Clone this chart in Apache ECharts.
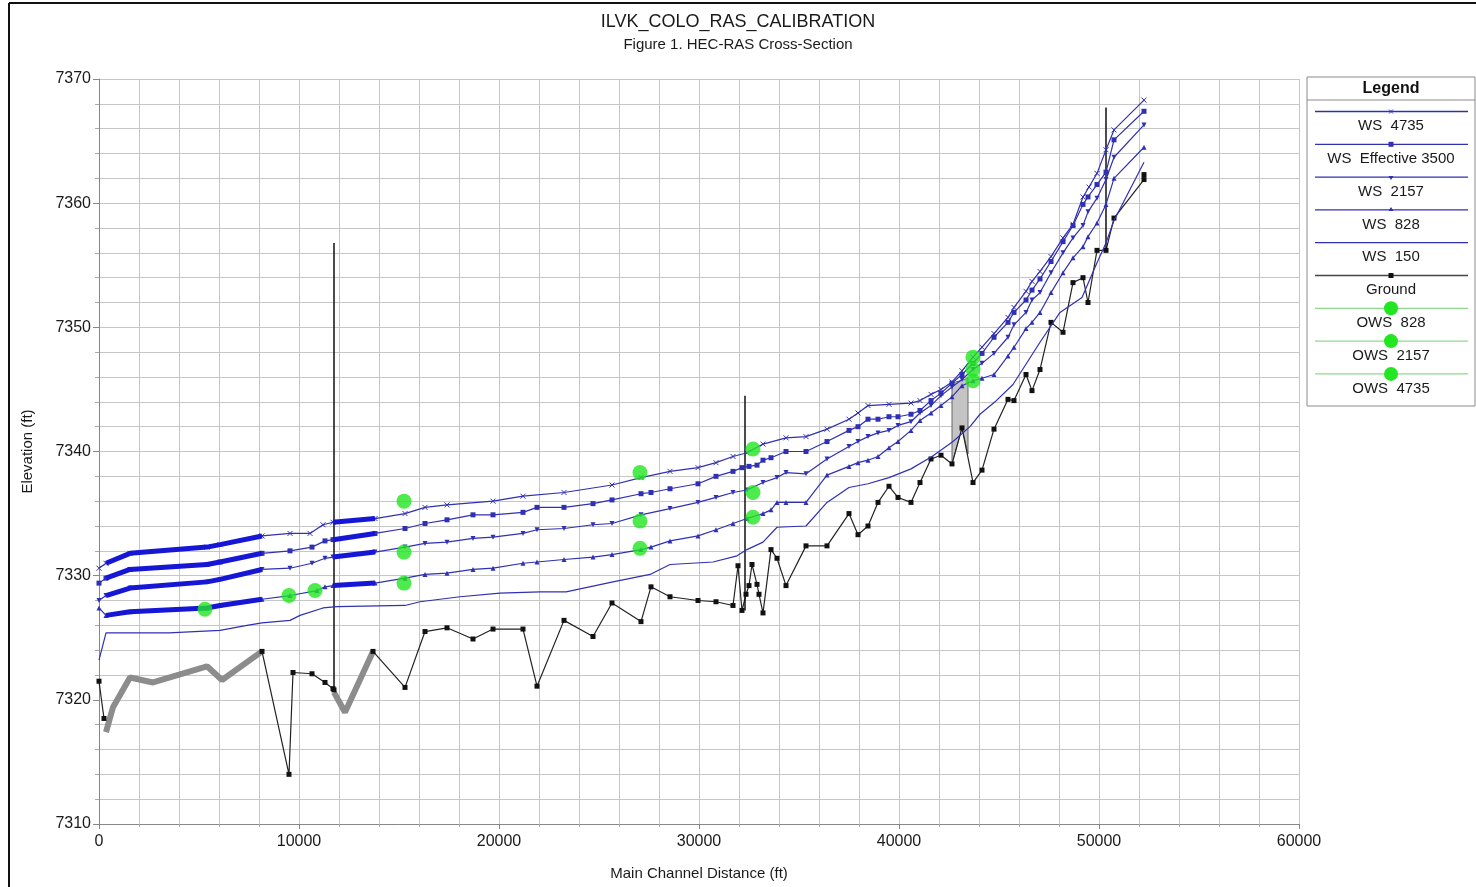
<!DOCTYPE html>
<html><head><meta charset="utf-8">
<script src="https://cdn.jsdelivr.net/npm/echarts/dist/echarts.min.js"></script>
<style>html,body{margin:0;padding:0;background:#fff}#c{width:1476px;height:887px}</style>
</head><body><div id="c"></div>
<script>
// ---- tick labels / axis ranges
const xTickValues = [0, 10000, 20000, 30000, 40000, 50000, 60000];
const yTickValues = [7310, 7320, 7330, 7340, 7350, 7360, 7370];

// ---- water surface profiles [distance ft, elevation ft]
const ws4735 = [[0,7330.6],[350,7331.0],[1550,7331.8],[5400,7332.3],[6050,7332.5],[8150,7333.2],[9550,7333.4],[10550,7333.4],[11200,7334.1],[11700,7334.3],[13800,7334.6],[15300,7335.0],[16300,7335.5],[17400,7335.7],[19700,7336.0],[21200,7336.4],[23250,7336.7],[25650,7337.3],[27100,7337.9],[28550,7338.4],[29950,7338.7],[30850,7339.1],[31700,7339.6],[32400,7339.9],[33200,7340.6],[34350,7341.1],[35350,7341.2],[36400,7341.8],[37500,7342.6],[37950,7343.1],[38450,7343.7],[39500,7343.8],[40600,7343.9],[41050,7344.1],[41600,7344.6],[42100,7345.0],[42650,7345.6],[43150,7346.5],[43700,7347.6],[44150,7348.4],[44750,7349.5],[45450,7350.8],[45750,7351.6],[46350,7352.9],[46650,7353.7],[47050,7354.5],[47600,7355.7],[48200,7357.2],[48700,7358.3],[49200,7360.5],[49500,7361.3],[49900,7362.4],[50350,7364.3],[50750,7365.9],[52250,7368.3]];
const wsEff3500 = [[0,7329.4],[350,7329.8],[1550,7330.5],[5400,7330.9],[6050,7331.1],[8150,7331.8],[9550,7332.0],[10650,7332.3],[11300,7332.8],[11700,7332.9],[13800,7333.4],[15300,7333.8],[16300,7334.2],[17400,7334.5],[18700,7334.9],[19700,7334.9],[21200,7335.1],[21900,7335.5],[23250,7335.5],[24700,7335.8],[25650,7336.1],[27100,7336.6],[27600,7336.7],[28550,7337.0],[29950,7337.4],[30850,7338.0],[31700,7338.4],[32150,7338.7],[32500,7338.8],[32900,7338.9],[33200,7339.3],[33600,7339.5],[34350,7340.0],[35350,7340.0],[36400,7340.8],[37500,7341.7],[37950,7342.0],[38450,7342.6],[38950,7342.6],[39500,7342.8],[39950,7342.8],[40600,7343.0],[41050,7343.3],[41600,7344.1],[42100,7344.7],[42650,7345.5],[43150,7346.2],[43700,7347.1],[44150,7347.9],[44750,7349.2],[45450,7350.4],[45750,7351.2],[46350,7352.2],[46650,7353.0],[47050,7353.9],[47600,7355.3],[48200,7356.9],[48700,7358.2],[49200,7359.9],[49450,7360.5],[49900,7361.5],[50350,7362.5],[50750,7365.1],[52250,7367.4]];
const ws2157 = [[0,7328.0],[350,7328.4],[1550,7329.0],[5400,7329.5],[6050,7329.7],[8150,7330.5],[9550,7330.6],[10650,7331.0],[11300,7331.4],[11700,7331.5],[13800,7331.9],[15300,7332.3],[16300,7332.6],[17400,7332.7],[18700,7333.0],[19700,7333.1],[21200,7333.4],[21900,7333.7],[23250,7333.8],[24700,7334.1],[25650,7334.2],[27100,7334.9],[28550,7335.4],[29950,7335.9],[30850,7336.3],[31700,7336.7],[32400,7336.9],[33200,7337.5],[33900,7337.9],[34350,7338.3],[35350,7338.2],[36400,7339.4],[37500,7340.4],[37950,7340.8],[38450,7341.2],[38950,7341.5],[39500,7341.7],[39950,7342.1],[40600,7342.4],[41050,7343.1],[41600,7343.7],[42100,7344.5],[42650,7345.2],[43150,7345.8],[43700,7346.6],[44150,7347.1],[44750,7347.9],[45450,7349.2],[45750,7350.2],[46350,7351.2],[46650,7352.2],[47050,7352.8],[47600,7354.4],[48200,7356.0],[48700,7357.2],[49200,7358.2],[49450,7359.3],[49900,7360.4],[50350,7361.9],[50750,7363.7],[52250,7366.3]];
const ws828 = [[0,7327.4],[350,7326.8],[1550,7327.1],[5400,7327.4],[6050,7327.6],[8150,7328.1],[9550,7328.4],[10900,7328.8],[11300,7329.1],[11700,7329.2],[13800,7329.4],[15300,7329.8],[16300,7330.1],[17400,7330.2],[18700,7330.5],[19700,7330.6],[21200,7331.0],[21900,7331.1],[23250,7331.3],[24700,7331.5],[25650,7331.7],[27100,7332.1],[27600,7332.3],[28550,7332.8],[29950,7333.2],[30850,7333.7],[31700,7334.2],[32400,7334.6],[33200,7335.0],[33600,7335.3],[33900,7335.9],[34350,7335.9],[35350,7335.9],[36400,7338.1],[37500,7338.8],[37950,7339.1],[38450,7339.3],[38950,7339.6],[39500,7340.3],[39950,7340.8],[40600,7341.7],[41050,7342.5],[41600,7343.1],[42100,7343.7],[42650,7344.4],[43150,7345.3],[43700,7345.7],[44150,7345.9],[44750,7346.2],[45450,7347.7],[45750,7348.4],[46350,7349.9],[46650,7350.4],[47050,7351.2],[47600,7352.8],[48200,7354.4],[48700,7355.6],[49200,7356.5],[49450,7357.3],[49900,7358.4],[50350,7359.9],[50750,7362.0],[52250,7364.5]];
const ws150 = [[0,7323.2],[350,7325.4],[3500,7325.4],[6050,7325.6],[7400,7326.0],[8150,7326.2],[9550,7326.4],[10050,7326.8],[11200,7327.4],[11900,7327.5],[15300,7327.6],[16050,7327.9],[18050,7328.3],[20050,7328.6],[22050,7328.7],[23350,7328.7],[25700,7329.5],[27550,7330.1],[28550,7330.9],[30700,7331.1],[31900,7331.6],[32400,7332.1],[33200,7332.7],[33900,7333.9],[35350,7334.0],[36400,7335.9],[37500,7337.1],[38450,7337.4],[39500,7337.9],[40600,7338.6],[41650,7339.6],[42700,7340.8],[43550,7342.0],[44050,7343.0],[44800,7344.0],[45700,7345.4],[47050,7348.8],[48050,7351.2],[49150,7352.4],[49900,7355.2],[50350,7356.8],[50750,7358.6],[52250,7363.3]];

// ---- ground (black, with cross-section markers)
const groundUp = [[0,7321.5],[250,7318.5]];
const groundMid = [[8150,7323.9],[9500,7314.0],[9700,7322.2],[10650,7322.1],[11300,7321.4],[11700,7320.9],[11750,7320.8]];
const groundDown = [[13700,7323.9],[15300,7321.0],[16300,7325.5],[17400,7325.8],[18700,7324.9],[19700,7325.7],[21200,7325.7],[21900,7321.1],[23250,7326.4],[24700,7325.1],[25650,7327.8],[27100,7326.3],[27600,7329.1],[28550,7328.3],[29950,7328.0],[30850,7327.9],[31700,7327.6],[31950,7330.8],[32150,7327.2],[32350,7328.5],[32500,7329.2],[32650,7330.9],[32900,7329.3],[33000,7328.5],[33200,7327.0],[33600,7332.1],[33900,7331.4],[34350,7329.2],[35350,7332.4],[36400,7332.4],[37500,7335.0],[37950,7333.3],[38450,7334.0],[38950,7335.9],[39500,7337.2],[39950,7336.3],[40600,7335.9],[41050,7337.5],[41600,7339.4],[42100,7339.7],[42650,7339.0],[43150,7341.9],[43700,7337.5],[44150,7338.5],[44750,7341.8],[45450,7344.2],[45750,7344.1],[46350,7346.2],[46650,7344.9],[47050,7346.6],[47600,7350.4],[48200,7349.6],[48700,7353.6],[49200,7354.0],[49450,7352.0],[49900,7356.2],[50350,7356.2],[50750,7358.8],[52250,7361.9],[52250,7362.3]];
// ---- interpolated ground (thick grey)
const groundInterp1 = [[350,7317.4],[700,7319.4],[1550,7321.8],[2700,7321.4],[5400,7322.7],[6150,7321.6],[8150,7323.9]];
const groundInterp2 = [[11750,7320.6],[12300,7319.0],[13700,7323.9]];
// ---- structures [distance, bottom, top]
const structures = [[11750,7320.8,7356.8],[32300,7327.2,7344.5],[50350,7356.2,7367.7]];
// ---- ineffective area polygon
const ineffArea = [[42650,7345.5],[43450,7345.9],[43450,7339.8],[43150,7341.9],[42650,7339.0]];
// ---- dense interpolated reaches (drawn thick)
const denseReaches = [[350,8150],[11700,13800]];
// ---- observed water surface
const ows828 = [[5300,7327.3],[9500,7328.4],[10800,7328.8],[15250,7329.4],[27050,7332.2],[32700,7334.7],[43700,7345.7]];
const ows2157 = [[15250,7331.9],[27050,7334.4],[32700,7336.7],[43700,7346.6]];
const ows4735 = [[15250,7336.0],[27050,7338.3],[32700,7340.2],[43700,7347.6]];

const WS = '#3030b4', WS_THICK = '#1616d6', GREEN = '#22e622';
const FONT = '"Liberation Sans", Arial, sans-serif';
const triDown = 'path://M0,0L10,0L5,9Z';
const xMark = 'path://M0,0L10,10M10,0L0,10';

const wsDefs = [
  {name:'WS  4735', data:ws4735, symbol:xMark, fill:'none', size:5},
  {name:'WS  Effective 3500', data:wsEff3500, symbol:'rect', fill:WS, size:5},
  {name:'WS  2157', data:ws2157, symbol:triDown, fill:WS, size:5},
  {name:'WS  828', data:ws828, symbol:'triangle', fill:WS, size:5},
  {name:'WS  150', data:ws150, symbol:'none', fill:WS, size:0}
];

const series = [];
series.push({type:'custom', silent:true, z:1, data:[ineffArea[0]],
  renderItem:(p,api)=>({type:'polygon', shape:{points:ineffArea.map(q=>api.coord(q))},
    style:{fill:'#c4c4c4', stroke:'#666', lineWidth:1}})});
[groundInterp1, groundInterp2].forEach(d=>series.push({type:'line', data:d, symbol:'none', z:2,
  lineStyle:{color:'#8c8c8c', width:6}, silent:true}));
[groundUp, groundMid, groundDown].forEach(d=>series.push({type:'line', name:'Ground', data:d, z:3,
  symbol:'rect', symbolSize:5, itemStyle:{color:'#111'}, lineStyle:{color:'#222', width:1.2}}));
series.push({type:'custom', z:4, data:structures, encode:{x:0,y:[1,2]},
  renderItem:(p,api)=>{const a=api.coord([api.value(0),api.value(1)]);const b=api.coord([api.value(0),api.value(2)]);
    return {type:'line', shape:{x1:a[0],y1:a[1],x2:b[0],y2:b[1]}, style:{stroke:'#111', lineWidth:1.5}};}});
wsDefs.forEach(w=>{
  series.push({type:'line', name:w.name, data:w.data, z:5, symbol:w.symbol, symbolSize:w.size, showSymbol:w.symbol!=='none',
    itemStyle:{color:w.fill==='none'?'rgba(0,0,0,0)':w.fill, borderColor:WS, borderWidth:w.fill==='none'?1:0},
    lineStyle:{color:WS, width:1.2}});
  if (w.symbol!=='none') denseReaches.forEach(r=>series.push({type:'line', data:w.data.filter(q=>q[0]>=r[0]&&q[0]<=r[1]),
    symbol:'none', z:6, silent:true, lineStyle:{color:WS_THICK, width:5}}));
});
[['OWS  828',ows828],['OWS  2157',ows2157],['OWS  4735',ows4735]].forEach(([n,d])=>series.push({type:'scatter', name:n, data:d, z:10,
  symbol:'circle', symbolSize:15, itemStyle:{color:GREEN}}));

// legend graphic
const lg = [];
const LX = 1307, LY = 77, LW = 168, LH = 329;
lg.push({type:'rect', shape:{x:LX,y:LY,width:LW,height:LH}, style:{fill:'#fff', stroke:'#8a8a8a', lineWidth:1}, z:100});
lg.push({type:'text', x:1391, y:89, style:{text:'Legend', font:'bold 16px '+FONT, fill:'#111', align:'center', verticalAlign:'middle'}, z:101});
lg.push({type:'line', shape:{x1:LX,y1:100,x2:LX+LW,y2:100}, style:{stroke:'#8a8a8a', lineWidth:1}, z:101});
const legendItems = [
  {label:'WS  4735', color:WS, mark:'x'},
  {label:'WS  Effective 3500', color:WS, mark:'rect'},
  {label:'WS  2157', color:WS, mark:'tdown'},
  {label:'WS  828', color:WS, mark:'tup'},
  {label:'WS  150', color:WS, mark:null},
  {label:'Ground', color:'#444', mark:'grect'},
  {label:'OWS  828', color:'#8fd88f', mark:'dot'},
  {label:'OWS  2157', color:'#8fd88f', mark:'dot'},
  {label:'OWS  4735', color:'#8fd88f', mark:'dot'}
];
legendItems.forEach((it,i)=>{
  const y = 111.5 + i*32.8, cx = 1391;
  lg.push({type:'line', shape:{x1:1315,y1:y,x2:1468,y2:y}, style:{stroke:it.color, lineWidth:1.3}, z:101});
  if (it.mark==='x') lg.push({type:'polyline', shape:{points:[[cx-2,y-2],[cx+2,y+2]]}, style:{stroke:WS,lineWidth:1}, z:102},
                              {type:'polyline', shape:{points:[[cx-2,y+2],[cx+2,y-2]]}, style:{stroke:WS,lineWidth:1}, z:102});
  if (it.mark==='rect') lg.push({type:'rect', shape:{x:cx-2.5,y:y-2.5,width:5,height:5}, style:{fill:WS}, z:102});
  if (it.mark==='grect') lg.push({type:'rect', shape:{x:cx-2.5,y:y-2.5,width:5,height:5}, style:{fill:'#111'}, z:102});
  if (it.mark==='tdown') lg.push({type:'polygon', shape:{points:[[cx-2.5,y-1],[cx+2.5,y-1],[cx,y+3]]}, style:{fill:WS}, z:102});
  if (it.mark==='tup') lg.push({type:'polygon', shape:{points:[[cx-2.5,y+1],[cx+2.5,y+1],[cx,y-3]]}, style:{fill:WS}, z:102});
  if (it.mark==='dot') lg.push({type:'circle', shape:{cx:cx,cy:y,r:7}, style:{fill:GREEN}, z:102});
  lg.push({type:'text', x:cx, y:y+14.5, style:{text:it.label, font:'15px '+FONT, fill:'#1a1a1a', align:'center', verticalAlign:'middle'}, z:102});
});
lg.push({type:'line', shape:{x1:9,y1:3,x2:9,y2:887}, style:{stroke:'#111', lineWidth:2}, z:100});
lg.push({type:'line', shape:{x1:9,y1:3,x2:1476,y2:3}, style:{stroke:'#111', lineWidth:2}, z:100});

const chart = echarts.init(document.getElementById('c'), null, {renderer:'canvas'});
chart.setOption({
  animation:false,
  backgroundColor:'#fff',
  textStyle:{fontFamily:FONT},
  title:{text:'ILVK_COLO_RAS_CALIBRATION', subtext:'Figure 1. HEC-RAS Cross-Section', left:'center', top:8, itemGap:6,
    textStyle:{fontSize:18, fontWeight:'normal', color:'#1a1a1a', fontFamily:FONT},
    subtextStyle:{fontSize:15, color:'#1a1a1a', fontFamily:FONT}},
  grid:{left:99, right:177, top:79, bottom:63},
  xAxis:{type:'value', min:xTickValues[0], max:xTickValues[xTickValues.length-1], interval:xTickValues[1]-xTickValues[0],
    name:'Main Channel Distance (ft)', nameLocation:'middle', nameGap:42, nameTextStyle:{fontSize:15, color:'#1a1a1a'},
    axisLine:{show:true, lineStyle:{color:'#888'}}, axisTick:{show:true, length:5, lineStyle:{color:'#888'}},
    minorTick:{show:true, splitNumber:5, length:3, lineStyle:{color:'#aaa'}},
    axisLabel:{fontSize:16, color:'#1a1a1a', margin:10, formatter:v=>String(v)},
    splitLine:{show:true, lineStyle:{color:'#c6c6c6', width:1}},
    minorSplitLine:{show:true, lineStyle:{color:'#c6c6c6', width:1}}},
  yAxis:{type:'value', min:yTickValues[0], max:yTickValues[yTickValues.length-1], interval:yTickValues[1]-yTickValues[0],
    name:'Elevation (ft)', nameLocation:'middle', nameGap:64, nameTextStyle:{fontSize:15, color:'#1a1a1a'},
    axisLine:{show:true, lineStyle:{color:'#888'}}, axisTick:{show:true, length:6, lineStyle:{color:'#888'}},
    minorTick:{show:true, splitNumber:5, length:4, lineStyle:{color:'#aaa'}},
    axisLabel:{fontSize:16, color:'#1a1a1a', margin:8, formatter:v=>String(v)},
    splitLine:{show:true, lineStyle:{color:'#c6c6c6', width:1}},
    minorSplitLine:{show:true, lineStyle:{color:'#c6c6c6', width:1}}},
  series:series,
  graphic:lg
});
</script></body></html>
